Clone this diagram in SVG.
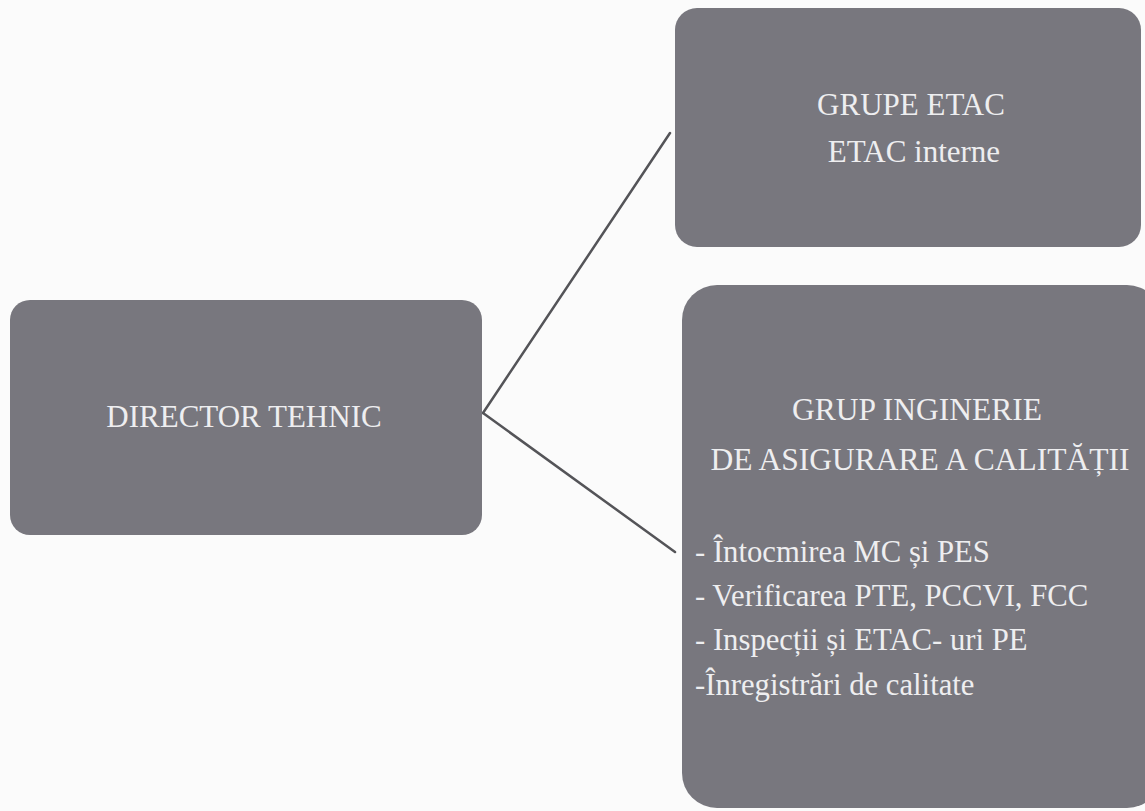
<svg xmlns="http://www.w3.org/2000/svg" width="1145" height="811" viewBox="0 0 1145 811">
  <style>
    .box { fill: #78777e; }
    .t { font-family: "Liberation Serif", "Times New Roman", serif; fill: #eeeef0; }
    .c { text-anchor: middle; }
    .conn { stroke: #545458; stroke-width: 2.5; fill: none; stroke-linecap: round; }
  </style>
  <rect x="0" y="0" width="1145" height="811" fill="#fbfbfb"/>
  <g id="connectors">
    <line class="conn" x1="483" y1="413" x2="670" y2="133"/>
    <line class="conn" x1="483" y1="413" x2="675" y2="552"/>
  </g>
  <g id="director">
    <rect class="box" x="10" y="300" width="472" height="235" rx="20"/>
    <text class="t c" x="244" y="427" font-size="31">DIRECTOR TEHNIC</text>
  </g>
  <g id="grupe-etac">
    <rect class="box" x="675" y="8" width="466" height="239" rx="22"/>
    <text class="t c" x="911" y="115" font-size="31">GRUPE ETAC</text>
    <text class="t c" x="914" y="162" font-size="31">ETAC interne</text>
  </g>
  <g id="grup-inginerie">
    <rect class="box" x="682" y="285" width="480" height="523" rx="35"/>
    <text class="t c" x="917" y="420" font-size="31.5">GRUP INGINERIE</text>
    <text class="t c" x="920" y="470" font-size="31.5">DE ASIGURARE A CALITĂȚII</text>
    <text class="t" x="695" y="562" font-size="30.7">- Întocmirea MC și PES</text>
    <text class="t" x="695" y="606" font-size="30.7">- Verificarea PTE, PCCVI, FCC</text>
    <text class="t" x="695" y="650" font-size="30.7">- Inspecții și ETAC- uri PE</text>
    <text class="t" x="695" y="695" font-size="30.7">-Înregistrări de calitate</text>
  </g>
</svg>
